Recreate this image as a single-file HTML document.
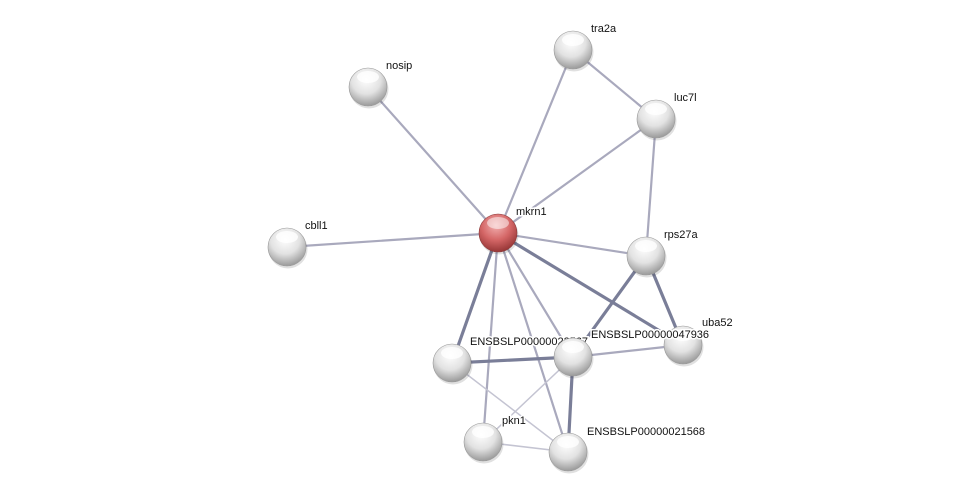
<!DOCTYPE html>
<html><head><style>html,body{margin:0;padding:0;background:#fff;width:975px;height:498px;overflow:hidden}</style></head>
<body>
<svg width="975" height="498" xmlns="http://www.w3.org/2000/svg">
<defs>
<radialGradient id="g" cx="0.45" cy="0.3" r="0.7">
<stop offset="0" stop-color="#ffffff"/><stop offset="0.55" stop-color="#e2e2e2"/><stop offset="1" stop-color="#9a9a9a"/></radialGradient>
<radialGradient id="r" cx="0.45" cy="0.3" r="0.7">
<stop offset="0" stop-color="#f2b0b0"/><stop offset="0.55" stop-color="#d46666"/><stop offset="1" stop-color="#963636"/></radialGradient>
<g id="n"><circle cx="1" cy="2" r="19.5" fill="#000" opacity="0.12"/><circle r="19" fill="url(#g)" stroke="#999" stroke-width="0.6"/><ellipse cx="0" cy="-10" rx="11" ry="6" fill="#fff" opacity="0.8"/></g>
</defs>
<g stroke-linecap="round">
<g stroke="#a9a9bd" stroke-width="2.2">
<line x1="498" y1="233" x2="368" y2="87"/><line x1="498" y1="233" x2="573" y2="50"/>
<line x1="498" y1="233" x2="656" y2="119"/><line x1="498" y1="233" x2="287" y2="247"/>
<line x1="498" y1="233" x2="646" y2="256"/><line x1="498" y1="233" x2="573" y2="357"/>
<line x1="498" y1="233" x2="483" y2="442"/><line x1="498" y1="233" x2="568" y2="452"/>
<line x1="573" y1="50" x2="656" y2="119"/><line x1="656" y1="119" x2="646" y2="256"/>
<line x1="573" y1="357" x2="683" y2="345"/>
</g>
<g stroke="#c4c4d2" stroke-width="1.5">
<line x1="452" y1="363" x2="568" y2="452"/><line x1="573" y1="357" x2="483" y2="442"/>
<line x1="483" y1="442" x2="568" y2="452"/>
</g>
<g stroke="#7a7e98" stroke-width="3.2">
<line x1="498" y1="233" x2="452" y2="363"/><line x1="498" y1="233" x2="683" y2="345"/>
<line x1="646" y1="256" x2="573" y2="357"/><line x1="646" y1="256" x2="683" y2="345"/>
<line x1="452" y1="363" x2="573" y2="357"/><line x1="573" y1="357" x2="568" y2="452"/>
</g>
</g>
<g font-family="Liberation Sans, sans-serif" font-size="11" fill="#111" stroke="#fff" stroke-width="3" paint-order="stroke">
<text x="591" y="32">tra2a</text><text x="386" y="69">nosip</text><text x="674" y="101">luc7l</text>
<text x="516" y="215">mkrn1</text><text x="305" y="229">cbll1</text><text x="664" y="238">rps27a</text>
<text x="702" y="326">uba52</text><text x="470" y="345">ENSBSLP00000023567</text>
<text x="591" y="338">ENSBSLP00000047936</text><text x="502" y="424">pkn1</text>
<text x="587" y="435">ENSBSLP00000021568</text>
</g>
<use href="#n" x="573" y="50"/><use href="#n" x="368" y="87"/><use href="#n" x="656" y="119"/>
<use href="#n" x="287" y="247"/><use href="#n" x="646" y="256"/><use href="#n" x="683" y="345"/>
<use href="#n" x="452" y="363"/><use href="#n" x="573" y="357"/><use href="#n" x="483" y="442"/>
<use href="#n" x="568" y="452"/>
<circle cx="499" cy="235" r="19.5" fill="#000" opacity="0.12"/>
<circle cx="498" cy="233" r="19" fill="url(#r)" stroke="#8a3a3a" stroke-width="0.6"/><ellipse cx="498" cy="223" rx="11" ry="6" fill="#fff" opacity="0.5"/>
<g font-family="Liberation Sans, sans-serif" font-size="11" fill="#111" stroke="#fff" stroke-width="3" paint-order="stroke">
<text x="591" y="338">ENSBSLP00000047936</text><text x="702" y="326">uba52</text>
</g>
</svg>
</body></html>
